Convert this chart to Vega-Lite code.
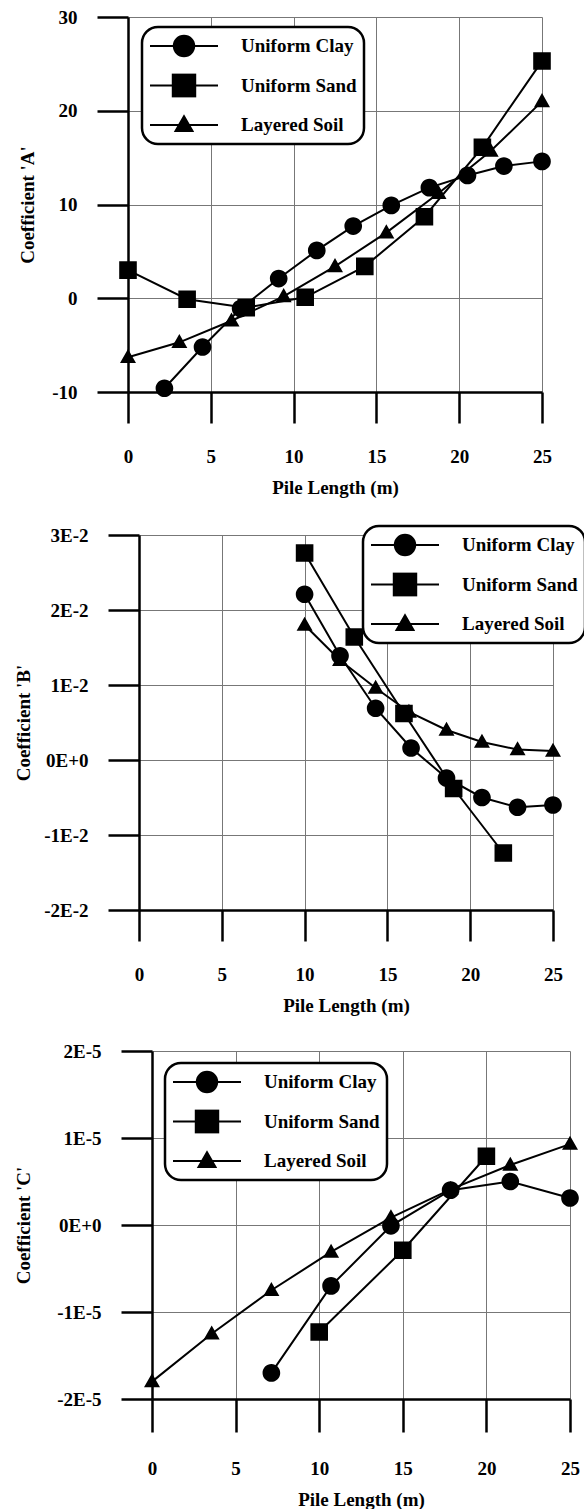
{
  "$schema": "https://vega.github.io/schema/vega-lite/v6.json",
  "autosize": {"type": "pad"},
  "padding": {"left": 14, "top": 8, "right": 0, "bottom": 0},
  "spacing": 27,
  "background": "white",
  "datasets": {
    "A": [
      {"series": "Uniform Clay", "x": 2.2, "y": -9.6},
      {"series": "Uniform Clay", "x": 4.5, "y": -5.2},
      {"series": "Uniform Clay", "x": 6.8, "y": -1.1},
      {"series": "Uniform Clay", "x": 9.1, "y": 2.1},
      {"series": "Uniform Clay", "x": 11.4, "y": 5.1},
      {"series": "Uniform Clay", "x": 13.6, "y": 7.7},
      {"series": "Uniform Clay", "x": 15.9, "y": 9.9},
      {"series": "Uniform Clay", "x": 18.2, "y": 11.8},
      {"series": "Uniform Clay", "x": 20.5, "y": 13.1},
      {"series": "Uniform Clay", "x": 22.7, "y": 14.1},
      {"series": "Uniform Clay", "x": 25, "y": 14.6},
      {"series": "Uniform Sand", "x": 0, "y": 3.0},
      {"series": "Uniform Sand", "x": 3.57, "y": -0.1},
      {"series": "Uniform Sand", "x": 7.14, "y": -1.0},
      {"series": "Uniform Sand", "x": 10.7, "y": 0.1},
      {"series": "Uniform Sand", "x": 14.3, "y": 3.4},
      {"series": "Uniform Sand", "x": 17.9, "y": 8.7},
      {"series": "Uniform Sand", "x": 21.4, "y": 16.1},
      {"series": "Uniform Sand", "x": 25, "y": 25.3},
      {"series": "Layered Soil", "x": 0, "y": -6.3},
      {"series": "Layered Soil", "x": 3.1, "y": -4.7},
      {"series": "Layered Soil", "x": 6.25, "y": -2.4},
      {"series": "Layered Soil", "x": 9.4, "y": 0.2},
      {"series": "Layered Soil", "x": 12.5, "y": 3.4},
      {"series": "Layered Soil", "x": 15.6, "y": 7.0},
      {"series": "Layered Soil", "x": 18.75, "y": 11.2},
      {"series": "Layered Soil", "x": 21.9, "y": 15.7},
      {"series": "Layered Soil", "x": 25, "y": 21.0}
    ],
    "B": [
      {"series": "Uniform Clay", "x": 10, "y": 0.0221},
      {"series": "Uniform Clay", "x": 12.14, "y": 0.0139},
      {"series": "Uniform Clay", "x": 14.29, "y": 0.0069},
      {"series": "Uniform Clay", "x": 16.43, "y": 0.0016},
      {"series": "Uniform Clay", "x": 18.57, "y": -0.0024},
      {"series": "Uniform Clay", "x": 20.71, "y": -0.005},
      {"series": "Uniform Clay", "x": 22.86, "y": -0.0063},
      {"series": "Uniform Clay", "x": 25, "y": -0.006},
      {"series": "Uniform Sand", "x": 10, "y": 0.0276},
      {"series": "Uniform Sand", "x": 13, "y": 0.0164},
      {"series": "Uniform Sand", "x": 16, "y": 0.0062},
      {"series": "Uniform Sand", "x": 19, "y": -0.0038},
      {"series": "Uniform Sand", "x": 22, "y": -0.0124},
      {"series": "Layered Soil", "x": 10, "y": 0.018},
      {"series": "Layered Soil", "x": 12.14, "y": 0.0133},
      {"series": "Layered Soil", "x": 14.29, "y": 0.0096},
      {"series": "Layered Soil", "x": 16.3, "y": 0.0064},
      {"series": "Layered Soil", "x": 18.57, "y": 0.004},
      {"series": "Layered Soil", "x": 20.71, "y": 0.0024},
      {"series": "Layered Soil", "x": 22.86, "y": 0.0014},
      {"series": "Layered Soil", "x": 25, "y": 0.0012}
    ],
    "C": [
      {"series": "Uniform Clay", "x": 7.14, "y": -1.70e-5},
      {"series": "Uniform Clay", "x": 10.71, "y": -0.70e-5},
      {"series": "Uniform Clay", "x": 14.29, "y": -0.01e-5},
      {"series": "Uniform Clay", "x": 17.86, "y": 0.40e-5},
      {"series": "Uniform Clay", "x": 21.43, "y": 0.50e-5},
      {"series": "Uniform Clay", "x": 25, "y": 0.31e-5},
      {"series": "Uniform Sand", "x": 10, "y": -1.23e-5},
      {"series": "Uniform Sand", "x": 15, "y": -0.29e-5},
      {"series": "Uniform Sand", "x": 20, "y": 0.79e-5},
      {"series": "Layered Soil", "x": 0, "y": -1.80e-5},
      {"series": "Layered Soil", "x": 3.57, "y": -1.25e-5},
      {"series": "Layered Soil", "x": 7.14, "y": -0.75e-5},
      {"series": "Layered Soil", "x": 10.71, "y": -0.31e-5},
      {"series": "Layered Soil", "x": 14.29, "y": 0.085e-5},
      {"series": "Layered Soil", "x": 17.86, "y": 0.41e-5},
      {"series": "Layered Soil", "x": 21.43, "y": 0.69e-5},
      {"series": "Layered Soil", "x": 25, "y": 0.93e-5}
    ]
  },
  "config": {
    "view": {"stroke": null},
    "font": "Liberation Serif",
    "axis": {
      "domainColor": "black", "domainWidth": 2.5,
      "tickColor": "black", "tickWidth": 2.5, "tickSize": 31,
      "grid": true, "gridColor": "#777", "gridWidth": 1, "gridOpacity": 1,
      "labelFont": "Liberation Serif", "labelFontWeight": "bold", "labelFontSize": 19, "labelColor": "black",
      "titleFont": "Liberation Serif", "titleFontWeight": "bold", "titleFontSize": 19, "titleColor": "black",
      "labelFlush": false, "labelOverlap": false
    },
    "axisX": {"labelPadding": 24, "titlePadding": 12},
    "axisY": {"labelPadding": 20},
    "legend": {
      "orient": "none",
      "symbolSize": 4624, "symbolStrokeWidth": 2, "symbolStrokeColor": "black", "symbolFillColor": "black",
      "labelFont": "Liberation Serif", "labelFontWeight": "bold", "labelFontSize": 19, "labelColor": "black",
      "labelOffset": 22, "rowPadding": 15.5, "padding": 7, "clipHeight": 24,
      "strokeColor": "black", "strokeWidth": 2.5, "cornerRadius": 16, "fillColor": "white"
    }
  },
  "resolve": {"scale": {"x": "independent", "y": "independent", "shape": "independent", "size": "independent"}, "legend": {"shape": "independent"}},
  "vconcat": [
    {
      "width": 414, "height": 375,
      "data": {"name": "A"},
      "layer": [
        {
          "mark": {"type": "line", "color": "black", "strokeWidth": 2},
          "encoding": {
            "x": {"field": "x", "type": "quantitative", "scale": {"domain": [0, 25], "nice": false}, "axis": {"values": [0, 5, 10, 15, 20, 25], "title": "Pile Length (m)"}},
            "y": {"field": "y", "type": "quantitative", "scale": {"domain": [-10, 30], "nice": false, "zero": false}, "axis": {"values": [-10, 0, 10, 20, 30], "title": "Coefficient 'A'", "titlePadding": 14, "labelExpr": "datum.value + ''"}},
            "detail": {"field": "series"}
          }
        },
        {
          "mark": {"type": "point", "filled": true, "color": "black", "opacity": 1},
          "encoding": {
            "x": {"field": "x", "type": "quantitative"},
            "y": {"field": "y", "type": "quantitative"},
            "size": {"field": "series", "type": "nominal", "scale": {"domain": ["Layered Soil", "Uniform Clay", "Uniform Sand"], "range": [4096, 2844, 2780]}, "legend": null},
            "shape": {
              "field": "series", "type": "nominal",
              "scale": {"domain": ["Uniform Clay", "Uniform Sand", "Layered Soil"], "range": ["M-1,0H1M0.3,0A0.3,0.3,0,1,1,-0.3,0A0.3,0.3,0,1,1,0.3,0Z", "M-1,0H1M-0.33,-0.33H0.33V0.33H-0.33Z", "M-1,0H1M0,-0.26L0.25,0.18H-0.25Z"]},
              "legend": {
                "title": null, "legendX": 14, "legendY": 10,
                "encoding": {"symbols": {"stroke": {"value": "black"}, "strokeWidth": {"value": 2}, "fill": {"value": "black"}, "opacity": {"value": 1}}}
              }
            }
          }
        }
      ]
    },
    {
      "width": 425, "height": 375,
      "data": {"name": "B"},
      "layer": [
        {
          "mark": {"type": "line", "color": "black", "strokeWidth": 2},
          "encoding": {
            "x": {"field": "x", "type": "quantitative", "scale": {"domain": [0, 25], "nice": false, "range": [11, 425]}, "axis": {"values": [0, 5, 10, 15, 20, 25], "title": "Pile Length (m)"}},
            "y": {"field": "y", "type": "quantitative", "scale": {"domain": [-0.02, 0.03], "nice": false, "zero": false}, "axis": {"values": [-0.02, -0.01, 0, 0.01, 0.02, 0.03], "title": "Coefficient 'B'", "offset": -11, "titlePadding": 10, "labelExpr": "datum.value == 0 ? '0E+0' : round(datum.value * 100) + 'E-2'"}},
            "detail": {"field": "series"}
          }
        },
        {
          "mark": {"type": "point", "filled": true, "color": "black", "opacity": 1},
          "encoding": {
            "x": {"field": "x", "type": "quantitative"},
            "y": {"field": "y", "type": "quantitative"},
            "size": {"field": "series", "type": "nominal", "scale": {"domain": ["Layered Soil", "Uniform Clay", "Uniform Sand"], "range": [4096, 2844, 2780]}, "legend": null},
            "shape": {
              "field": "series", "type": "nominal",
              "scale": {"domain": ["Uniform Clay", "Uniform Sand", "Layered Soil"], "range": ["M-1,0H1M0.3,0A0.3,0.3,0,1,1,-0.3,0A0.3,0.3,0,1,1,0.3,0Z", "M-1,0H1M-0.33,-0.33H0.33V0.33H-0.33Z", "M-1,0H1M0,-0.26L0.25,0.18H-0.25Z"]},
              "legend": {
                "title": null, "legendX": 235, "legendY": -9,
                "encoding": {"symbols": {"stroke": {"value": "black"}, "strokeWidth": {"value": 2}, "fill": {"value": "black"}, "opacity": {"value": 1}}}
              }
            }
          }
        }
      ]
    },
    {
      "width": 442, "height": 348,
      "data": {"name": "C"},
      "layer": [
        {
          "mark": {"type": "line", "color": "black", "strokeWidth": 2},
          "encoding": {
            "x": {"field": "x", "type": "quantitative", "scale": {"domain": [0, 25], "nice": false, "range": [24, 442]}, "axis": {"values": [0, 5, 10, 15, 20, 25], "title": "Pile Length (m)", "tickSize": 33, "labelPadding": 27}},
            "y": {"field": "y", "type": "quantitative", "scale": {"domain": [-0.00002, 0.00002], "nice": false, "zero": false}, "axis": {"values": [-0.00002, -0.00001, 0, 0.00001, 0.00002], "title": "Coefficient 'C'", "offset": -24, "titlePadding": 23, "labelExpr": "datum.value == 0 ? '0E+0' : round(datum.value * 100000) + 'E-5'"}},
            "detail": {"field": "series"}
          }
        },
        {
          "mark": {"type": "point", "filled": true, "color": "black", "opacity": 1},
          "encoding": {
            "x": {"field": "x", "type": "quantitative"},
            "y": {"field": "y", "type": "quantitative"},
            "size": {"field": "series", "type": "nominal", "scale": {"domain": ["Layered Soil", "Uniform Clay", "Uniform Sand"], "range": [4096, 2844, 2780]}, "legend": null},
            "shape": {
              "field": "series", "type": "nominal",
              "scale": {"domain": ["Uniform Clay", "Uniform Sand", "Layered Soil"], "range": ["M-1,0H1M0.3,0A0.3,0.3,0,1,1,-0.3,0A0.3,0.3,0,1,1,0.3,0Z", "M-1,0H1M-0.33,-0.33H0.33V0.33H-0.33Z", "M-1,0H1M0,-0.26L0.25,0.18H-0.25Z"]},
              "legend": {
                "title": null, "legendX": 37, "legendY": 12,
                "encoding": {"symbols": {"stroke": {"value": "black"}, "strokeWidth": {"value": 2}, "fill": {"value": "black"}, "opacity": {"value": 1}}}
              }
            }
          }
        }
      ]
    }
  ]
}
